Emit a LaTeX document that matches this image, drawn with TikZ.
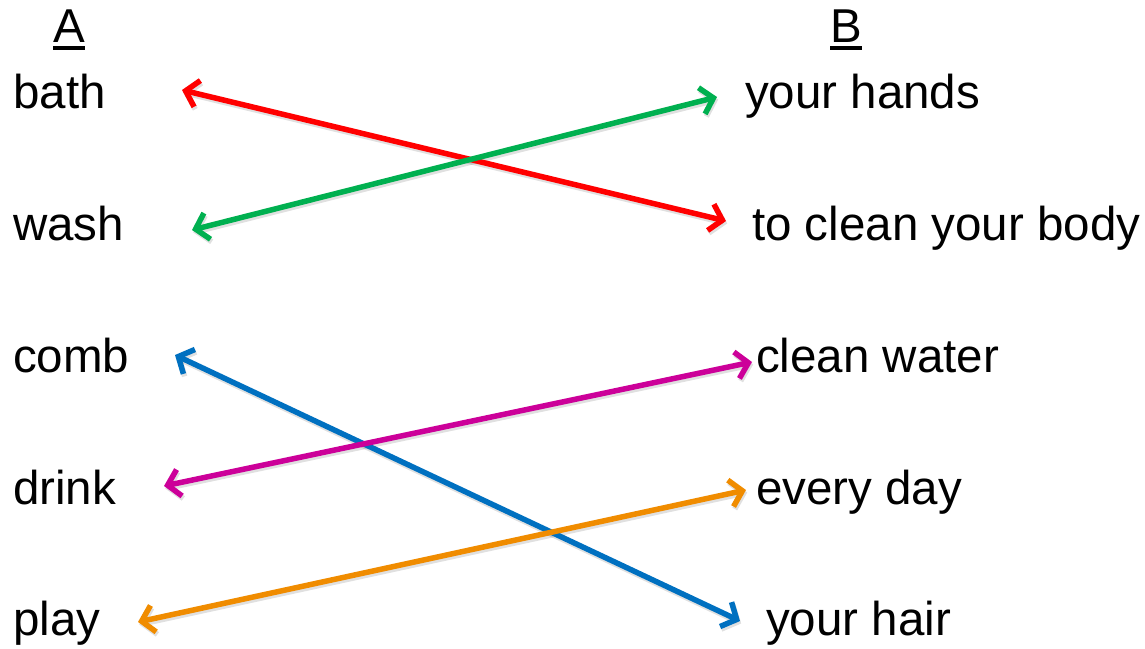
\documentclass[tikz,border=0pt]{standalone}
\usepackage{fontspec}
\setmainfont{Liberation Sans}
\usetikzlibrary{arrows.meta}
\definecolor{cred}{HTML}{FF0000}
\definecolor{cgreen}{HTML}{00B050}
\definecolor{cblue}{HTML}{0070C0}
\definecolor{cmag}{HTML}{CC0099}
\definecolor{corange}{HTML}{F08C00}
\tikzset{
  word/.style={anchor=base west, inner sep=0pt, font=\fontsize{47.5}{57}\selectfont},
  link/.style={line width=5.5pt, {Straight Barb[length=12pt,width=27pt,line width=5.5pt]}-{Straight Barb[length=12pt,width=27pt,line width=5.5pt]}, line cap=round, line join=round},
  shadowlink/.style={link, black, opacity=0.12},
  uline/.style={line width=4pt}
}
\begin{document}
\begin{tikzpicture}[x=1pt,y=-1pt]
\useasboundingbox (0,0) rectangle (1145,648);
% headers
\node[word] (hA) at (53,42) {A};
\node[word] (hB) at (830,42) {B};
\draw[uline] (hA.base west) ++(0,6) -- ++(32,0);
\draw[uline] (hB.base west) ++(0,6) -- ++(32,0);
% column A
\node[word] (bath) at (13,108) {bath};
\node[word] (wash) at (13,240) {wash};
\node[word] (comb) at (13,372) {comb};
\node[word] (drink) at (13,504) {drink};
\node[word] (play) at (13,635) {play};
% column B
\node[word] (hands) at (745,108) {your hands};
\node[word] (body) at (752,240) {to clean your body};
\node[word] (water) at (756,372) {clean water};
\node[word] (day) at (756,504) {every day};
\node[word] (hair) at (766,635) {your hair};
% arrow end points
\coordinate (bathE) at (182,90);
\coordinate (washE) at (192,230);
\coordinate (combE) at (175,355);
\coordinate (drinkE) at (164,486);
\coordinate (playE) at (138,622);
\coordinate (handsE) at (717,97);
\coordinate (bodyE) at (726,221);
\coordinate (waterE) at (752,362);
\coordinate (dayE) at (746,490);
\coordinate (hairE) at (740,621);
% shadows
\begin{scope}[transform canvas={shift={(1.2pt,-2.5pt)}}]
\draw[shadowlink] (bathE) -- (bodyE);
\draw[shadowlink] (washE) -- (handsE);
\draw[shadowlink] (combE) -- (hairE);
\draw[shadowlink] (drinkE) -- (waterE);
\draw[shadowlink] (playE) -- (dayE);
\end{scope}
% connectors
\draw[link, cred] (bathE) -- (bodyE);
\draw[link, cgreen] (washE) -- (handsE);
\draw[link, cblue] (combE) -- (hairE);
\draw[link, cmag] (drinkE) -- (waterE);
\draw[link, corange] (playE) -- (dayE);
\end{tikzpicture}
\end{document}
